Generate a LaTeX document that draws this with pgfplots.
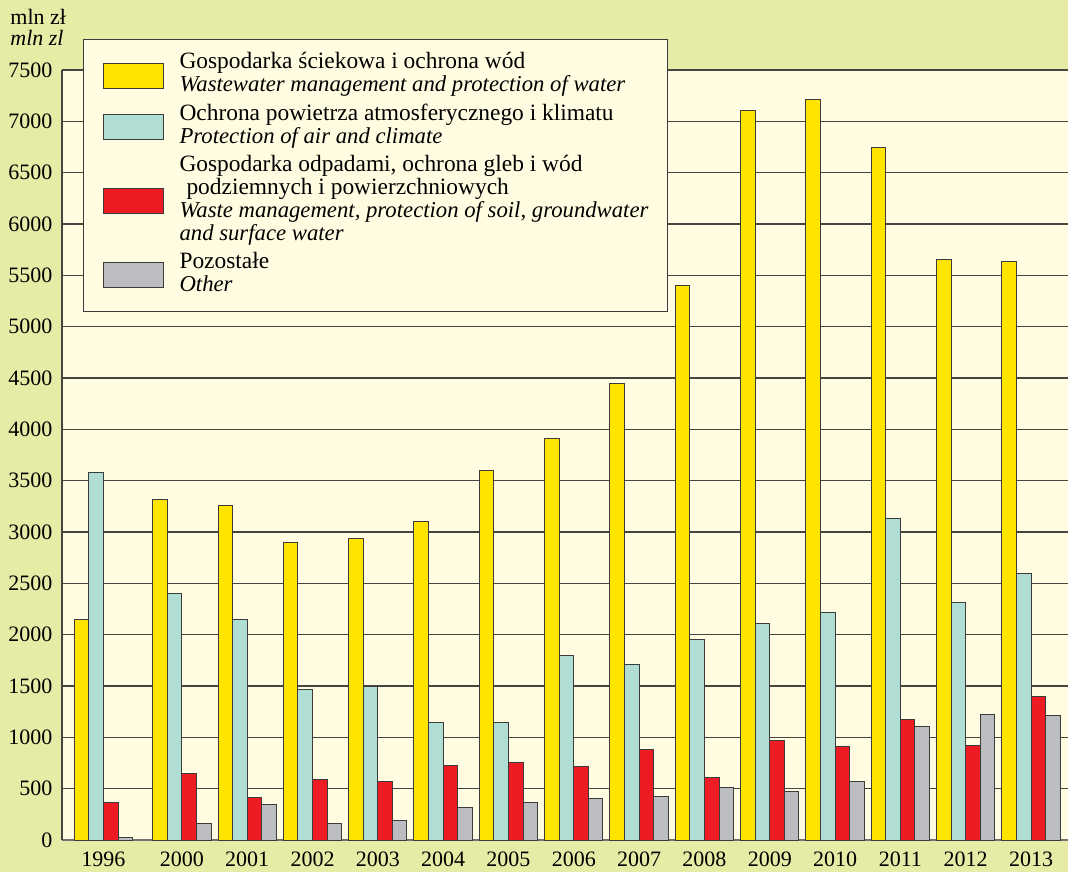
\documentclass[border=0pt]{standalone}
\usepackage{fontspec}
\setmainfont{Liberation Serif}
\usepackage{pgfplots}
\pgfplotsset{compat=1.18}
\definecolor{bggreen}{RGB}{230,236,166}
\definecolor{plotcream}{RGB}{255,252,225}
\definecolor{cyellow}{RGB}{255,228,0}
\definecolor{ccyan}{RGB}{176,222,212}
\definecolor{cred}{RGB}{237,28,36}
\definecolor{cgray}{RGB}{188,189,193}
\definecolor{edge}{RGB}{60,60,60}
\definecolor{gridc}{RGB}{70,70,65}
\newcommand\itl[1]{{\fontsize{11.36}{11.5}\selectfont\itshape #1}}
\begin{document}
\begin{tikzpicture}
\fill[bggreen] (0,0) rectangle (534pt,436pt);
\begin{axis}[
  at={(31pt,16pt)}, anchor=south west,
  scale only axis, width=503pt, height=385pt,
  xmin=-0.635, xmax=14.766, ymin=0, ymax=7500,
  axis background/.style={fill=plotcream},
  ybar=0pt, bar width=7.29pt,
  legend image code/.code={\draw[#1,draw=edge,line width=0.5pt] (0pt,-6.25pt) rectangle (30pt,6.25pt);},
  xtick={0,1.2,2.2,3.2,4.2,5.2,6.2,7.2,8.2,9.2,10.2,11.2,12.2,13.2,14.2},
  xticklabels={1996,2000,2001,2002,2003,2004,2005,2006,2007,2008,2009,2010,2011,2012,2013},
  ytick={0,500,...,7500},
  scaled y ticks=false,
  yticklabel style={/pgf/number format/1000 sep={}, anchor=east, xshift=-1.3pt},
  xticklabel style={yshift=-2.3pt},
  /pgf/number format/assume math mode=true,
  tick label style={font=\fontsize{11}{13}\selectfont},
  ymajorgrids, major grid style={gridc, line width=0.55pt},
  major tick length=0pt,
  axis lines*=left,
  x axis line style={draw=black!55, line width=1.1pt},
  y axis line style={draw=gridc, line width=0.6pt},
  legend style={at={(axis description cs:0.0209,1.0403)}, anchor=north west,
    fill=plotcream, draw=edge, line width=0.5pt,
    inner xsep=9.5pt, inner ysep=6.5pt, row sep=2.5pt,
    nodes={inner sep=0pt, text depth=},
    font=\fontsize{11.7}{11.5}\selectfont,
    /tikz/every odd column/.append style={column sep=8pt}},
  legend cell align=left,
]
\addplot[fill=cyellow, draw=edge, line width=0.5pt] coordinates {
(0,2150) (1.2,3320) (2.2,3260) (3.2,2895) (4.2,2935) (5.2,3100) (6.2,3600) (7.2,3910) (8.2,4445) (9.2,5400) (10.2,7110) (11.2,7215) (12.2,6745) (13.2,5655) (14.2,5630)};
\addlegendentry{\begin{tabular}{@{}l@{}}Gospodarka ściekowa i ochrona wód\\\itl{Wastewater management and protection of water}\end{tabular}}
\addplot[fill=ccyan, draw=edge, line width=0.5pt] coordinates {
(0,3575) (1.2,2405) (2.2,2150) (3.2,1465) (4.2,1500) (5.2,1145) (6.2,1145) (7.2,1795) (8.2,1705) (9.2,1955) (10.2,2105) (11.2,2220) (12.2,3135) (13.2,2310) (14.2,2595)};
\addlegendentry{\begin{tabular}{@{}l@{}}Ochrona powietrza atmosferycznego i klimatu\\\itl{Protection of air and climate}\end{tabular}}
\addplot[fill=cred, draw=edge, line width=0.5pt] coordinates {
(0,362) (1.2,648) (2.2,411) (3.2,586) (4.2,570) (5.2,726) (6.2,752) (7.2,719) (8.2,885) (9.2,612) (10.2,972) (11.2,913) (12.2,1170) (13.2,923) (14.2,1402)};
\addlegendentry{\begin{tabular}{@{}l@{}}Gospodarka odpadami, ochrona gleb i wód\\\hspace*{3.5pt}podziemnych i powierzchniowych\\\itl{Waste management, protection of soil, groundwater}\\\itl{and surface water}\end{tabular}}
\addplot[fill=cgray, draw=edge, line width=0.5pt] coordinates {
(0,27) (1.2,164) (2.2,343) (3.2,164) (4.2,190) (5.2,314) (6.2,368) (7.2,407) (8.2,424) (9.2,508) (10.2,474) (11.2,573) (12.2,1106) (13.2,1219) (14.2,1209)};
\addlegendentry{\begin{tabular}{@{}l@{}}Pozostałe\\\itl{Other}\end{tabular}}
\end{axis}
\node[anchor=base west, inner sep=0pt, font=\fontsize{11}{13}\selectfont] at (5pt,423.5pt) {mln zł};
\node[anchor=base west, inner sep=0pt, font=\fontsize{11}{13}\selectfont\itshape] at (5pt,413pt) {mln zl};
\pgfresetboundingbox
\useasboundingbox (0,0) rectangle (534pt,436pt);
\end{tikzpicture}
\end{document}
